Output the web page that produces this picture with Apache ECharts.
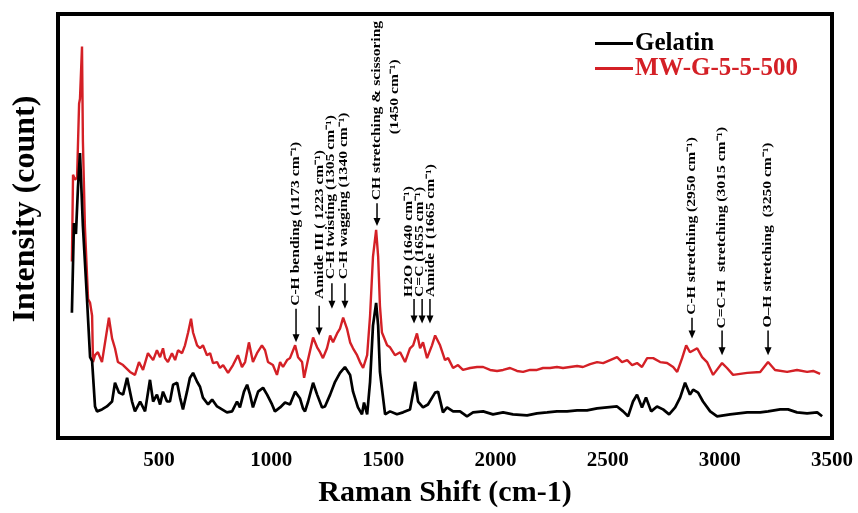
<!DOCTYPE html>
<html>
<head>
<meta charset="utf-8">
<script src="https://cdn.jsdelivr.net/npm/echarts@6/dist/echarts.min.js"></script>
<style>
    html, body { margin: 0; padding: 0; background: #fff; }
    #main { width: 858px; height: 513px; }
</style>
</head>
<body>
<div id="main"></div>
<script>
    // Raman spectra: [raman shift (cm-1), intensity (count)]
    var gelatin = [
        [112,1270],[121,2180],[130,2070],[139,2540],[148,2890],[161,2150],[179,1420],[193,820],[202,780],
        [215,320],[224,270],[246,290],[268,320],[291,370],[304,560],[322,460],[340,440],[358,610],[380,370],
        [393,270],[416,370],[438,270],[460,590],[474,370],[491,440],[505,340],[518,470],[536,370],[549,370],
        [563,540],[581,560],[594,410],[607,290],[625,470],[638,610],[652,660],[670,570],[683,520],[696,410],
        [719,340],[737,390],[759,320],[781,290],[803,260],[826,270],[848,370],[861,310],[879,470],[893,540],
        [906,440],[919,310],[942,470],[964,510],[982,440],[1004,340],[1017,270],[1040,310],[1062,360],[1084,340],
        [1107,470],[1129,400],[1142,300],[1151,270],[1165,370],[1187,560],[1205,440],[1227,310],[1240,320],
        [1263,440],[1285,570],[1307,660],[1329,720],[1352,640],[1365,470],[1387,310],[1405,240],[1414,360],
        [1428,240],[1441,570],[1454,1140],[1468,1370],[1477,1140],[1485,670],[1508,240],[1530,270],[1561,240],
        [1588,260],[1619,290],[1642,570],[1655,370],[1677,310],[1699,340],[1731,460],[1744,470],[1766,260],
        [1784,310],[1811,270],[1842,270],[1873,220],[1900,260],[1945,270],[1989,240],[2034,260],[2078,240],
        [2141,230],[2185,250],[2230,260],[2274,270],[2319,270],[2364,280],[2408,280],[2453,300],[2497,310],
        [2542,320],[2569,270],[2591,220],[2613,370],[2631,440],[2653,310],[2671,410],[2694,270],[2720,320],
        [2747,290],[2774,240],[2801,310],[2823,410],[2845,560],[2867,440],[2881,490],[2903,460],[2925,370],
        [2957,270],[2988,220],[3046,240],[3122,260],[3180,260],[3215,270],[3269,290],[3304,290],[3344,260],
        [3389,250],[3434,260],[3456,220]
    ];
    var mwg = [
        [112,1790],[117,2670],[126,2620],[135,2640],[144,3390],[148,3440],[157,3970],[161,3010],[170,2140],
        [184,1410],[193,1370],[202,1240],[206,770],[215,840],[228,870],[246,770],[277,1220],[291,1010],[304,910],
        [317,770],[340,740],[371,670],[393,640],[411,770],[429,690],[451,860],[474,790],[491,890],[505,820],
        [518,910],[527,810],[540,770],[558,860],[572,790],[585,890],[603,860],[616,940],[630,1070],[643,1210],
        [652,1070],[670,940],[683,910],[696,940],[714,840],[728,860],[741,760],[759,770],[772,710],[786,740],
        [808,660],[830,740],[852,840],[870,720],[884,770],[901,970],[919,770],[937,860],[959,940],[973,890],
        [986,770],[1008,740],[1026,640],[1040,770],[1053,720],[1071,790],[1084,810],[1107,940],[1120,820],
        [1138,770],[1147,610],[1165,800],[1187,1020],[1205,920],[1218,870],[1231,810],[1249,910],[1263,1040],
        [1276,970],[1294,1060],[1307,1110],[1321,1220],[1338,1110],[1352,970],[1365,910],[1383,840],[1396,770],
        [1410,710],[1428,840],[1441,1240],[1454,1840],[1468,2110],[1477,1840],[1485,1340],[1494,1070],[1517,940],
        [1530,920],[1552,840],[1575,870],[1597,770],[1619,910],[1633,940],[1650,1060],[1664,910],[1677,970],
        [1695,810],[1717,940],[1731,1040],[1753,940],[1775,790],[1789,810],[1811,710],[1833,740],[1855,690],
        [1887,710],[1918,720],[1945,720],[1976,690],[2007,680],[2034,690],[2065,710],[2096,680],[2123,670],
        [2154,690],[2185,690],[2212,710],[2243,710],[2274,720],[2301,710],[2332,720],[2364,730],[2390,720],
        [2422,750],[2453,770],[2480,760],[2511,790],[2542,820],[2564,770],[2587,790],[2609,740],[2631,760],
        [2653,720],[2676,810],[2703,810],[2734,770],[2765,760],[2792,720],[2810,670],[2832,810],[2850,940],
        [2867,870],[2899,910],[2921,820],[2943,770],[2970,640],[3010,760],[3032,710],[3059,640],[3122,660],
        [3180,670],[3215,770],[3246,690],[3300,670],[3344,690],[3389,670],[3416,680],[3447,650]
    ];
    var xTicks = [500, 1000, 1500, 2000, 2500, 3000, 3500];

    // band assignments written on the plot
    var annoLabels = [
        'C-H bending (1173 cm⁻¹)', 'Amide III ( 1223 cm⁻¹)', 'C-H twisting (1305 cm⁻¹)', 'C-H wagging (1340 cm⁻¹)',
        'CH stretching & scissoring', '(1450 cm⁻¹)', 'H2O (1640 cm⁻¹)', 'C=C (1655 cm⁻¹)', 'Amide I (1665 cm⁻¹)',
        'C-H stretching (2950 cm⁻¹)', 'C=C-H  stretching (3015 cm⁻¹)', 'O–H stretching  (3250 cm⁻¹)'
    ];
    var annoLabelX = [1111, 1214, 1267, 1321, 1472, 1552, 1615, 1664, 1713, 2876, 3010, 3215];
    var annoLabelY = [1340, 1410, 1610, 1610, 2410, 3460, 1430, 1430, 1430, 1250, 1110, 1120];
    var arrowX = [1111, 1214, 1271, 1329, 1472, 1637, 1673, 1708, 2876, 3010, 3215];
    var arrowFrom = [1310, 1340, 1570, 1570, 2380, 1410, 1410, 1410, 1220, 1090, 1090];
    var arrowTo = [970, 1040, 1310, 1310, 2150, 1160, 1160, 1160, 1010, 840, 840];

    var SERIF = "'Liberation Serif', 'Times New Roman', serif";
    var RED = '#d42026';

    var myChart = echarts.init(document.getElementById('main'));
    myChart.setOption({
        animation: false,
        grid: {
            left: 58, right: 26, top: 14, bottom: 69,
            show: true,
            borderColor: '#000',
            borderWidth: 4
        },
        legend: {
            orient: 'vertical',
            left: 590,
            top: 26,
            itemWidth: 38,
            itemHeight: 3,
            itemGap: 0,
            data: [
                {name: 'Gelatin', icon: 'rect', itemStyle: {color: '#000'}, textStyle: {color: '#000'}},
                {name: 'MW-G-5-5-500', icon: 'rect', itemStyle: {color: RED}, textStyle: {color: RED}}
            ],
            textStyle: {fontFamily: SERIF, fontWeight: 'bold', fontSize: 25, padding: [0, 0, 0, -3]}
        },
        xAxis: {
            type: 'value',
            min: 50,
            max: 3500,
            name: 'Raman Shift (cm-1)',
            nameLocation: 'middle',
            nameGap: 40,
            nameTextStyle: {fontFamily: SERIF, fontWeight: 'bold', fontSize: 30, color: '#000'},
            axisLine: {show: false},
            axisTick: {show: false},
            splitLine: {show: false},
            axisLabel: {
                customValues: xTicks,
                formatter: function (v) { return String(v); },
                fontFamily: SERIF,
                fontWeight: 'bold',
                fontSize: 21,
                color: '#000',
                margin: 12
            }
        },
        yAxis: {
            type: 'value',
            min: 0,
            max: 4300,
            name: 'Intensity (count)',
            nameLocation: 'middle',
            nameRotate: 90,
            nameGap: 16,
            nameTextStyle: {fontFamily: SERIF, fontWeight: 'bold', fontSize: 32, color: '#000', padding: [0, 0, 0, 34]},
            axisLine: {show: false},
            axisTick: {show: false},
            axisLabel: {show: false},
            splitLine: {show: false}
        },
        series: [
            {
                name: 'Gelatin',
                type: 'line',
                data: gelatin,
                symbol: 'none',
                lineStyle: {color: '#000', width: 2.7},
                itemStyle: {color: '#000'},
                z: 3
            },
            {
                name: 'MW-G-5-5-500',
                type: 'line',
                data: mwg,
                symbol: 'none',
                lineStyle: {color: RED, width: 2.4},
                itemStyle: {color: RED},
                z: 2
            }
        ]
    });

    // annotations placed through the axes
    function toPx(x, y) {
        return myChart.convertToPixel({xAxisIndex: 0, yAxisIndex: 0}, [x, y]);
    }
    var graphics = [];
    annoLabels.forEach(function (t, i) {
        var p = toPx(annoLabelX[i], annoLabelY[i]);
        graphics.push({
            type: 'text',
            x: p[0],
            y: p[1],
            rotation: Math.PI / 2,
            scaleX: 1.2,
            style: {
                text: t,
                fill: '#000',
                fontFamily: SERIF,
                fontWeight: 'bold',
                fontSize: 13,
                align: t.charAt(0) === '(' ? 'center' : 'left',
                verticalAlign: 'middle'
            }
        });
    });
    arrowX.forEach(function (x, i) {
        var a = toPx(x, arrowFrom[i]);
        var b = toPx(x, arrowTo[i]);
        graphics.push({
            type: 'line',
            shape: {x1: a[0], y1: a[1], x2: b[0], y2: b[1] - 5},
            style: {stroke: '#000', lineWidth: 1.5}
        });
        graphics.push({
            type: 'polygon',
            shape: {points: [[b[0] - 3.5, b[1] - 8], [b[0] + 3.5, b[1] - 8], [b[0], b[1]]]},
            style: {fill: '#000'}
        });
    });
    myChart.setOption({graphic: graphics});
</script>
</body>
</html>
